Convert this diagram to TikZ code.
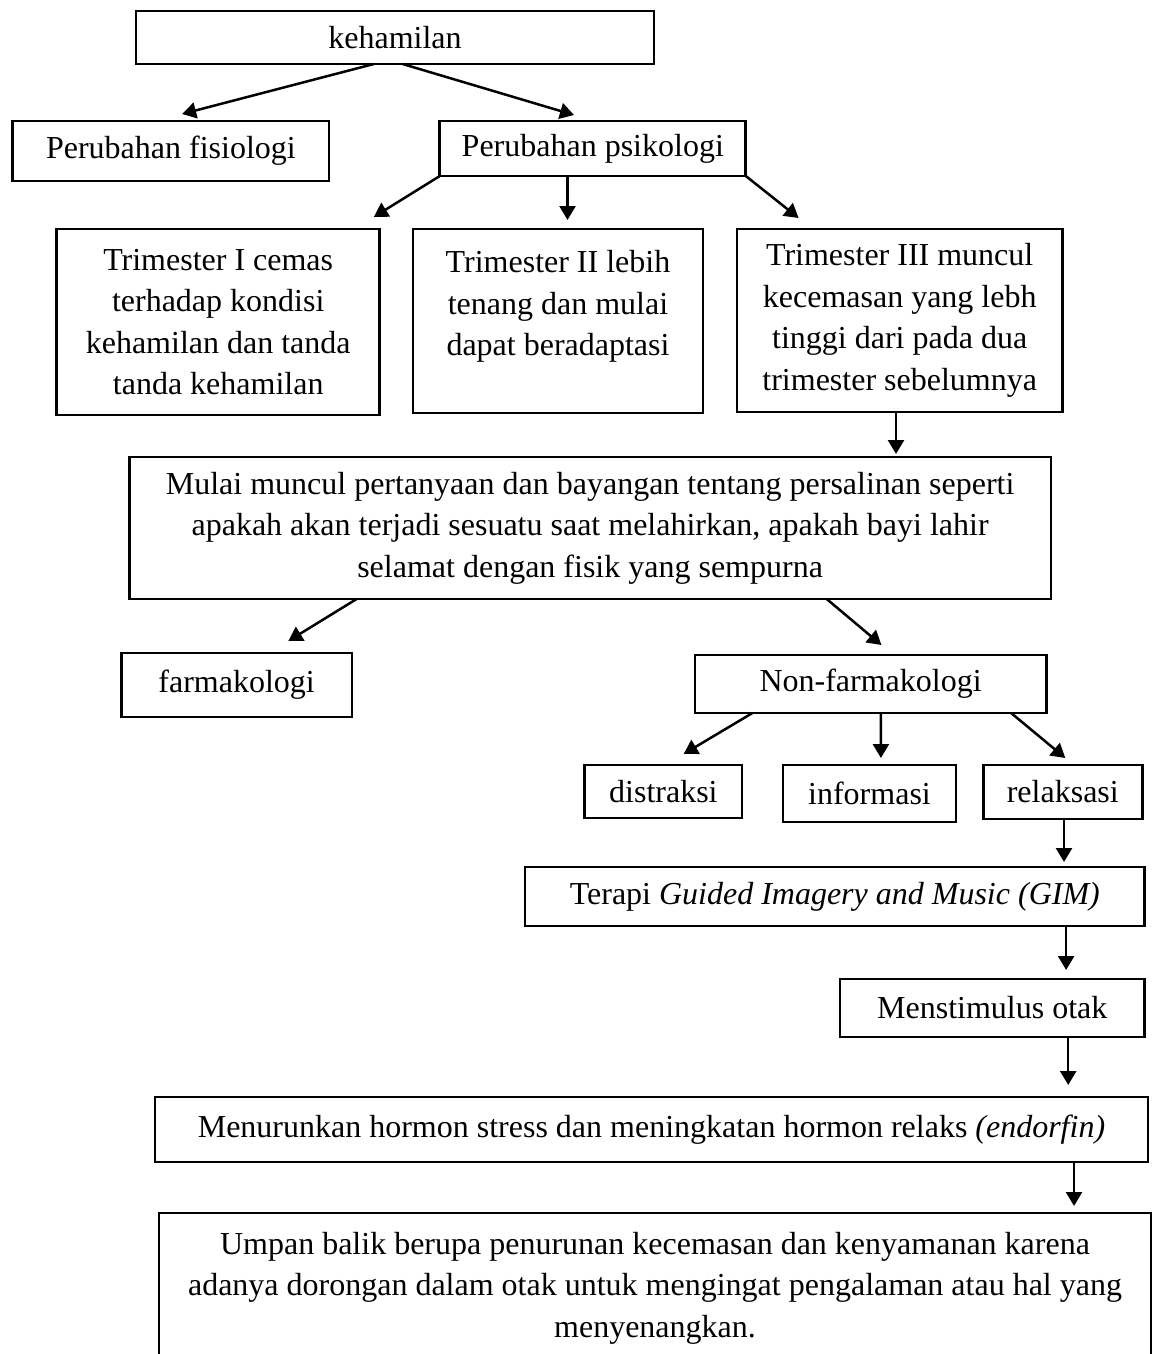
\documentclass[tikz,border=0pt]{standalone}
\usepackage{fontspec}
\setmainfont{Liberation Serif}
\usetikzlibrary{arrows.meta,calc}
\begin{document}
\begin{tikzpicture}[x=1pt,y=-1pt,
  txt/.style={align=center, inner sep=0pt, outer sep=0pt, font=\fontsize{32}{41.5}\selectfont},
  box/.style={txt, draw, line width=2.8pt},
  arr/.style={line width=2.5pt, -{Triangle[length=14pt,width=16pt]}}]
\useasboundingbox (0,0) rectangle (1153,1354);
\fill[white] (0,0) rectangle (1153,1354);
\clip (0,0) rectangle (1153,1354);
% boxes
\node[box, minimum width=518pt, minimum height=53pt] (keh) at (395,37.5) {kehamilan};
\node[box, minimum width=316.3pt, minimum height=60pt] (fis) at (170.9,151) {Perubahan fisiologi};
\node[box, minimum width=306pt, minimum height=55pt] (psi) at (592.8,148.5) {Perubahan psikologi};
\node[box, minimum width=322.9pt, minimum height=186pt] (t1) at (218.2,322) {Trimester I cemas\\terhadap kondisi\\kehamilan dan tanda\\tanda kehamilan};
\node[box, minimum width=290pt, minimum height=184pt] (t2) at (558,321) {};
\node[txt] (t2txt) at (558,306.5) {Trimester II lebih\\tenang dan mulai\\dapat beradaptasi};
\node[box, minimum width=325.6pt, minimum height=183pt] (t3) at (899.7,320.5) {Trimester III muncul\\kecemasan yang lebh\\tinggi dari pada dua\\trimester sebelumnya};
\node[box, minimum width=921.8pt, minimum height=142pt] (mul) at (590.1,528) {Mulai muncul pertanyaan dan bayangan tentang persalinan seperti\\apakah akan terjadi sesuatu saat melahirkan, apakah bayi lahir\\selamat dengan fisik yang sempurna};
\node[box, minimum width=230.8pt, minimum height=64pt] (far) at (236.6,685) {farmakologi};
\node[box, minimum width=351.4pt, minimum height=58pt] (nf) at (870.6,684) {Non-farmakologi};
\node[box, minimum width=157.3pt, minimum height=53pt] (dis) at (663.4,791.5) {distraksi};
\node[box, minimum width=173.1pt, minimum height=57pt] (inf) at (869.5,793.5) {informasi};
\node[box, minimum width=159.4pt, minimum height=54pt] (rel) at (1062.8,792) {relaksasi};
\node[box, minimum width=619.6pt, minimum height=59pt] (ter) at (834.8,896.5) {Terapi \textit{Guided Imagery and Music (GIM)}};
\node[box, minimum width=304.6pt, minimum height=58pt] (men) at (992.3,1008) {Menstimulus otak};
\node[box, minimum width=993pt, minimum height=65pt] (tur) at (651.5,1129.5) {Menurunkan hormon stress dan meningkatan hormon relaks \textit{(endorfin)}};
\node[box, minimum width=992pt, minimum height=150pt] (ump) at (655,1288) {Umpan balik berupa penurunan kecemasan dan kenyamanan karena\\adanya dorongan dalam otak untuk mengingat pengalaman atau hal yang\\menyenangkan.};
% arrows
\draw[arr] ($(keh.south)+(-21.2,0)$) -- ($(fis.north)+(11.2,-7)$);
\draw[arr] ($(keh.south)+(7.6,0)$) -- ($(psi.north)+(-18.8,-6)$);
\draw[arr] (psi.south west) -- ($(t1.north)+(155.6,-12)$);
\draw[arr] ($(psi.south)+(-25.3,0)$) -- ($(t2.north)+(9.5,-9)$);
\draw[arr] (psi.south east) -- ($(t3.north)+(-101.1,-11)$);
\draw[arr] ($(t3.south)+(-3.7,0)$) -- ($(mul.north east)+(-155,-3)$);
\draw[arr] ($(mul.south west)+(227.4,0)$) -- ($(far.north)+(51.7,-12)$);
\draw[arr] ($(mul.south east)+(-224.3,0)$) -- ($(nf.north)+(10.8,-10)$);
\draw[arr] ($(nf.south west)+(57.5,0)$) -- ($(dis.north)+(20.2,-11)$);
\draw[arr] ($(nf.south)+(10.3,0)$) -- ($(inf.north)+(11.4,-7)$);
\draw[arr] ($(nf.south east)+(-35.2,0)$) -- ($(rel.north)+(2.5,-7)$);
\draw[arr] ($(rel.south)+(1.2,0)$) -- ($(ter.north east)+(-80.6,-5)$);
\draw[arr] ($(ter.south east)+(-78.5,0)$) -- ($(men.north)+(73.8,-9)$);
\draw[arr] ($(men.south)+(75.9,0)$) -- ($(tur.north east)+(-79.8,-12)$);
\draw[arr] ($(tur.south east)+(-74,0)$) -- ($(ump.north east)+(-77,-7)$);
\end{tikzpicture}
\end{document}
